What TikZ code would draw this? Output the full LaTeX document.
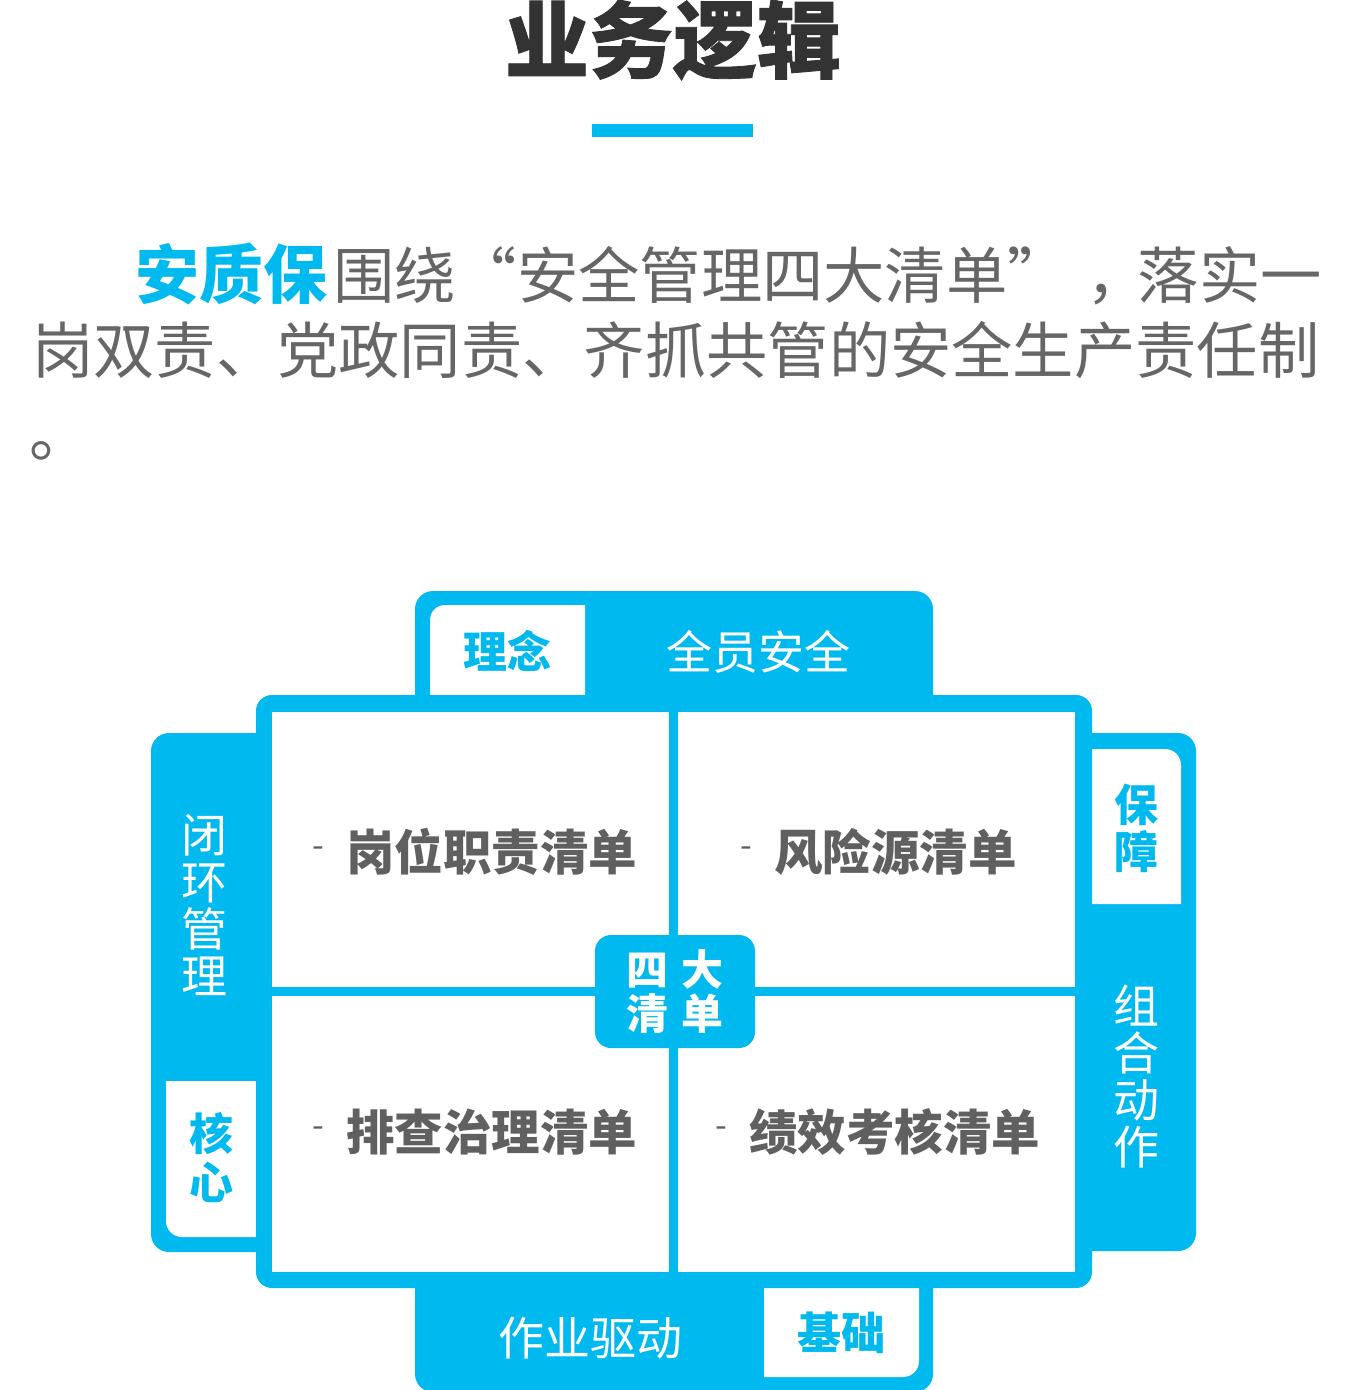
\documentclass[tikz,border=0pt]{standalone}
\usepackage{fontspec}
\newfontfamily\cjk{Noto Sans CJK SC}
\newfontfamily\cjkheavy[BoldFeatures={FakeBold=1}]{Noto Sans CJK SC}
\definecolor{qblue}{HTML}{00B9EF}
\definecolor{txtgray}{HTML}{666666}
\definecolor{quadgray}{HTML}{606060}
\definecolor{titlegray}{HTML}{333333}
\tikzset{
  para/.style={font=\cjk\fontsize{61.3}{61.3}\selectfont, text=txtgray, inner sep=0pt, anchor=base west},
  paraem/.style={font=\cjk\bfseries\fontsize{64}{64}\selectfont, text=qblue, inner sep=0pt, anchor=base west},
  wlbl/.style={font=\cjk\fontsize{46}{47}\selectfont, text=white, inner sep=0pt, align=center},
  tablbl/.style={font=\cjk\bfseries\fontsize{44}{49}\selectfont, text=qblue, inner sep=0pt, align=center},
  quad/.style={font=\cjk\bfseries\fontsize{48.5}{48.5}\selectfont, text=quadgray, inner sep=0pt, anchor=west},
  dashmark/.style={font=\cjk\fontsize{34}{34}\selectfont, text=quadgray, inner sep=0pt},
  centerbox/.style={fill=qblue, rounded corners=16pt, minimum width=160pt, minimum height=113pt,
     font=\cjk\bfseries\fontsize{42}{44}\selectfont, text=white, align=center, inner sep=0pt},
}
\begin{document}
\begin{tikzpicture}[x=1pt,y=-1pt]
\useasboundingbox (0,0) rectangle (1345,1390);
% title
\node[font=\cjkheavy\bfseries\fontsize{84}{84}\selectfont, text=titlegray, inner sep=0pt] (title) at (673,40) {业务逻辑};
\fill[qblue] (592,124) rectangle (753,137);
% paragraph
\node[paraem] (p1a) at (135,298) {安质保};
\node[para] (p1b) at (333,298) {围绕“安全管理四大清单”};
\node[para] (p1c) at (1086,298) {，};
\node[para, anchor=base east] (p1d) at (1322,298) {落实一};
\node[para] (p2) at (32,373) {岗双责、党政同责、齐抓共管的安全生产责任制};
\node[para] (p3) at (29,456) {。};
% blue side panels
\fill[qblue, rounded corners=18pt] (415,591) rectangle (933,760);
\fill[qblue, rounded corners=18pt] (151,733) rectangle (300,1252);
\fill[qblue, rounded corners=18pt] (1050,733) rectangle (1196,1251);
\fill[qblue, rounded corners=18pt] (415,1230) rectangle (933,1392);
% white tabs
\fill[white] (430,700) -- (430,620) arc[start angle=180,end angle=270,radius=15] -- (585,605) -- (585,700) -- cycle;
\fill[white] (166,1081) -- (262,1081) -- (262,1237) -- (182,1237) arc[start angle=90,end angle=180,radius=16] -- cycle;
\fill[white] (1085,904) -- (1085,749) -- (1165,749) arc[start angle=270,end angle=360,radius=16] -- (1181,904) -- cycle;
\fill[white] (764,1280) -- (919,1280) -- (919,1361) arc[start angle=0,end angle=90,radius=16] -- (764,1377) -- cycle;
% main frame
\fill[qblue, rounded corners=16pt] (256,695) rectangle (1092,1288);
\fill[white] (272,712) rectangle (1075,1272);
\fill[qblue] (669,712) rectangle (678,1272);
\fill[qblue] (272,987) rectangle (1075,996);
% center
\node[centerbox] (core) at (675,991.5) {四\hspace{13pt}大\\清\hspace{13pt}单};
% panel labels
\node[tablbl] (lnian) at (507,651) {理念};
\node[wlbl] (qyaq) at (758,652) {全员安全};
\node[wlbl] (bhgl) at (204,905) {闭\\环\\管\\理};
\node[tablbl] (hx) at (211,1158) {核\\心};
\node[tablbl, font=\cjk\bfseries\fontsize{44}{47}\selectfont] (bz) at (1136,828) {保\\障};
\node[wlbl] (zhdz) at (1136,1076) {组\\合\\动\\作};
\node[wlbl] (zyqd) at (590,1338) {作业驱动};
\node[tablbl] (jc) at (841,1333) {基础};
% quadrant texts
\node[quad] (q1) at (346,852) {岗位职责清单};
\node[dashmark] (d1) at (318,852) {-};
\node[quad] (q2) at (774,852) {风险源清单};
\node[dashmark] (d2) at (746,852) {-};
\node[quad] (q3) at (346,1132) {排查治理清单};
\node[dashmark] (d3) at (318,1132) {-};
\node[quad] (q4) at (749,1132) {绩效考核清单};
\node[dashmark] (d4) at (721,1132) {-};
\end{tikzpicture}
\end{document}
